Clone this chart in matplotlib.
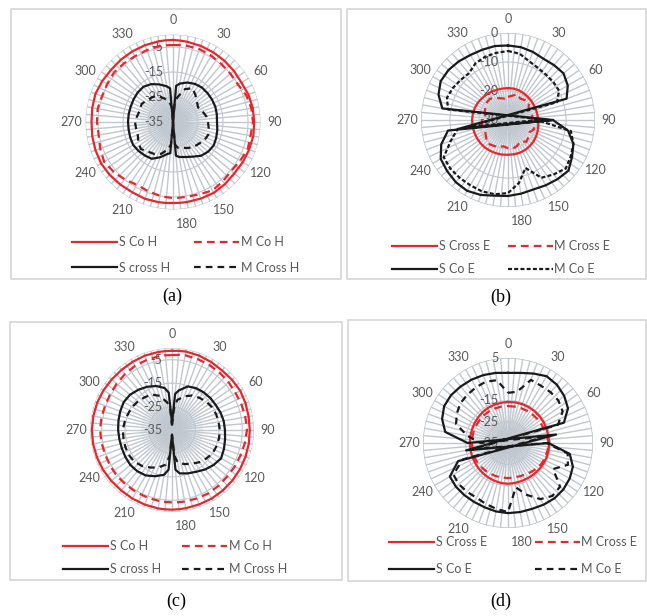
import numpy as np
import matplotlib
matplotlib.use("Agg")
import matplotlib.pyplot as plt
from matplotlib.patches import Rectangle

# =========================================
# DATA (dB)
# =========================================

# H-plane panels (a), (c): extra points next to the nulls
ang_h = [0, 5] + list(range(10, 171, 10)) + [175, 180, 185] + list(range(190, 351, 10)) + [355]
# E-plane panels (b), (d)
ang_e = list(range(0, 360, 10))

# (a)
a_s_co = [-2.2, -2.3, -2.4, -2.6, -2.8, -3.0, -3.2, -3.4, -2.9, -2.6, -2.5, -2.4, -2.6, -2.8,
          -3.0, -2.6, -2.3, -2.4, -2.5, -2.55, -2.6, -2.5, -2.4, -2.3, -2.5, -2.3, -2.0, -1.8,
          -2.0, -2.2, -2.4, -2.2, -2.0, -2.3, -2.6, -2.5, -2.4, -2.3, -2.2, -2.2]
a_m_co = [-4.2, -4.1, -4.0, -4.0, -4.4, -4.8, -5.0, -5.0, -3.8, -3.2, -3.0, -3.5, -3.2, -4.0,
          -4.6, -4.0, -3.4, -4.2, -4.6, -4.6, -4.6, -4.8, -5.0, -5.6, -6.0, -5.0, -4.0, -3.2,
          -4.0, -4.8, -4.6, -4.4, -4.8, -4.6, -4.2, -4.4, -4.6, -4.4, -4.2, -4.2]
a_s_x = [-35, -20.5, -19.4, -18.2, -17.4, -17.0, -17.0, -17.0, -17.0, -17.2, -17.4, -17.0, -16.6,
         -16.2, -16.6, -17.4, -19.0, -20.1, -20.8, -21.5, -35, -22.5, -22.0, -20.0, -18.0, -17.5,
         -17.0, -16.6, -16.8, -17.0, -17.0, -17.0, -17.0, -16.8, -16.6, -16.6, -17.5, -19.0,
         -20.5, -21.5]
a_m_x = [-35, -27.0, -25.0, -21.0, -19.4, -21.0, -22.5, -23.4, -22.5, -21.5, -21.0, -20.5, -20.0,
         -20.5, -21.5, -22.0, -23.0, -24.0, -24.6, -26.0, -35, -26.0, -24.0, -21.5, -20.2, -19.5,
         -18.2, -19.0, -20.0, -20.0, -19.8, -20.5, -21.0, -20.5, -21.5, -22.0, -23.0, -25.0,
         -27.0, -29.0]

# (b)
b_s_x = [-19.0, -19.0, -19.1, -19.3, -19.5, -19.6, -19.7, -19.7, -19.7, -19.6, -19.4, -19.1,
         -18.8, -18.5, -18.3, -18.1, -18.0, -18.0, -18.0, -17.9, -17.8, -17.7, -17.6, -17.6,
         -17.6, -17.6, -17.6, -17.6, -17.7, -17.8, -18.0, -18.3, -18.5, -18.7, -18.9, -19.0]
b_m_x = [-22.0, -21.5, -20.5, -21.5, -21.0, -20.6, -21.8, -22.5, -21.5, -21.7, -21.0, -20.5,
         -21.5, -20.8, -20.2, -21.5, -20.6, -20.0, -20.3, -20.8, -20.0, -19.8, -19.3, -20.2,
         -21.0, -21.5, -21.0, -21.0, -22.0, -21.5, -21.0, -20.5, -20.4, -21.2, -22.0, -22.5]
b_s_co = [-4.3, -4.5, -5.0, -5.6, -5.3, -5.0, -6.2, -8.5, -47.0, -14.5, -9.0, -6.0,
          -4.5, -2.8, -3.4, -4.0, -4.5, -4.2, -3.8, -3.5, -2.5, -1.8, -2.0, -2.6,
          -3.2, -5.5, -9.0, -45.5, -7.0, -4.5, -3.2, -3.2, -3.6, -4.1, -4.2, -4.1]
b_m_co = [-6.2, -6.8, -8.5, -9.3, -9.6, -9.6, -9.7, -12.0, -45.0, -20.0, -8.0, -6.0,
          -5.0, -4.0, -5.5, -7.0, -12.4, -8.0, -4.8, -4.0, -3.8, -4.0, -4.0, -4.0,
          -4.4, -9.0, -12.4, -44.0, -9.0, -7.6, -8.0, -8.6, -9.0, -7.5, -6.8, -6.5]

# (c)
c_s_co = [-1.2, -1.1, -1.0, -1.2, -1.5, -1.8, -1.6, -1.4, -1.6, -1.8, -1.8, -1.7, -1.6, -1.5,
          -1.4, -1.3, -1.2, -1.2, -1.1, -1.05, -1.0, -1.0, -1.0, -1.1, -1.2, -1.3, -1.2, -1.0,
          -0.9, -0.8, -0.8, -0.9, -1.0, -1.2, -1.4, -1.5, -1.4, -1.2, -1.2, -1.2]
c_m_co = [-3.0, -2.8, -2.6, -2.8, -3.0, -3.2, -3.4, -3.6, -3.4, -3.2, -3.0, -3.4, -3.8, -4.0,
          -4.2, -4.0, -3.8, -3.9, -4.0, -4.05, -4.1, -4.15, -4.2, -4.3, -4.4, -4.5, -4.4, -4.5,
          -4.6, -4.4, -4.3, -4.4, -4.6, -4.5, -4.2, -3.8, -3.4, -3.2, -3.0, -3.0]
c_s_x = [-32, -19.5, -17.8, -15.2, -14.4, -14.0, -13.7, -13.5, -13.0, -12.6, -12.4, -12.0, -11.4,
         -10.8, -11.8, -13.0, -14.4, -15.3, -16.2, -18.0, -33, -18.0, -15.6, -14.0, -12.6, -12.0,
         -11.8, -12.0, -12.2, -12.2, -12.0, -11.8, -11.5, -11.2, -11.6, -12.6, -13.7, -15.0,
         -16.8, -19.0]
c_m_x = [-33, -26.0, -22.0, -19.7, -18.0, -17.0, -16.0, -15.4, -15.0, -14.8, -14.6, -14.6, -14.8,
         -15.0, -16.0, -17.0, -18.4, -19.5, -21.0, -24.0, -33, -24.0, -20.0, -18.0, -16.5, -15.0,
         -14.0, -13.7, -13.8, -14.0, -14.0, -14.5, -15.0, -15.4, -16.0, -16.8, -17.5, -19.5,
         -23.0, -26.0]

# (d)
d_s_x = [-15.7, -15.6, -15.5, -15.5, -15.5, -15.5, -15.6, -15.7, -15.7, -15.6, -15.6, -15.6,
         -15.7, -15.8, -15.9, -16.0, -16.0, -15.9, -15.8, -15.9, -16.1, -16.3, -16.5, -16.7,
         -16.9, -17.0, -17.0, -17.0, -17.0, -16.9, -16.7, -16.5, -16.2, -16.0, -15.9, -15.8]
d_m_x = [-17.6, -17.6, -17.5, -17.4, -17.3, -17.2, -17.0, -16.8, -16.2, -16.0, -16.0, -16.3,
         -16.4, -16.8, -17.5, -18.0, -18.4, -18.5, -18.5, -18.5, -18.4, -18.3, -18.2, -18.0,
         -17.9, -17.8, -18.0, -18.0, -18.0, -17.9, -17.9, -17.8, -17.7, -17.6, -17.6, -17.6]
d_s_co = [-2.0, -1.5, -0.2, 1.3, 0.8, -0.5, -2.4, -7.0, -55.0, -16.0, -5.5, -2.5,
          -1.5, -1.0, -1.0, -1.5, -2.0, -2.0, -2.0, -2.3, -2.8, -3.0, -3.0, -3.0,
          -3.4, -10.0, -58.0, -16.0, -5.0, -2.0, -0.3, 0.0, -0.3, -0.6, -1.0, -1.5]
d_m_co = [-11.4, -10.5, -3.4, -3.9, -3.8, -4.0, -5.3, -10.0, -52.0, -17.0, -6.5, -5.0,
          -10.5, -3.0, -2.5, -4.5, -9.0, -13.8, -2.5, -3.5, -4.5, -5.3, -5.0, -4.8,
          -5.3, -12.4, -54.0, -22.0, -15.6, -9.0, -7.2, -5.8, -5.3, -4.8, -4.3, -5.0]

angle_labels = [str(a) for a in range(0, 360, 30)]

# =========================================
# STYLE
# =========================================

W, H = 647, 616
RED = "#e8262b"
BLACK = "#1a1a1a"
GRID = "#c0c7cf"
TXT = "#595959"
FONT = "Lato"

fig = plt.figure(figsize=(W / 100, H / 100), dpi=100)
fig.patch.set_facecolor("white")


def px_box(x0, y0, x1, y1):
    fig.add_artist(Rectangle((x0 / W, 1 - y1 / H), (x1 - x0) / W, (y1 - y0) / H,
                             transform=fig.transFigure, fill=False,
                             ec="#d6d6d6", lw=1.2))


def radar_points(deg, vals, rmin):
    # like a spreadsheet radar chart: values under the axis minimum
    # end up on the opposite side of the centre
    th = np.deg2rad(np.array(deg + [deg[0]], dtype=float))
    v = np.array(vals + [vals[0]], dtype=float)
    low = v < rmin
    th = np.where(low, th + np.pi, th)
    v = np.where(low, 2 * rmin - v, v)
    return th, v


def panel(cx, cy, R, rmin, rmax, rticks, deg, series, leg_xy, colsp, lsp,
          cap, cap_xy):
    ax = fig.add_axes([(cx - R) / W, 1 - (cy + R) / H, 2 * R / W, 2 * R / H],
                      projection="polar")
    ax.set_theta_zero_location("N")
    ax.set_theta_direction(-1)
    ax.set_ylim(rmin, rmax)
    ax.grid(False)
    ax.set_xticks([])
    ax.set_yticks([])
    ax.spines["polar"].set_visible(False)
    ax.patch.set_alpha(0)

    # dense spokes make the middle look grey
    circ = np.linspace(0, 2 * np.pi, 241)
    span = rmax - rmin
    for f in [0.38, 0.28, 0.18, 0.1]:
        ax.fill(circ, [rmin + f * span] * len(circ), color="#c4c8ce",
                alpha=0.18, lw=0, zorder=0)

    # spokes every 5 degrees
    for d in range(0, 360, 5):
        ax.plot([np.deg2rad(d)] * 2, [rmin, rmax], color=GRID, lw=1.0, zorder=1)
    # rings
    for v in rticks + [rmax]:
        ax.plot(circ, [v] * len(circ), color=GRID, lw=0.8, zorder=1)

    # radial labels
    for v in rticks:
        ax.annotate(str(v), xy=(0, v), xytext=(-7, 0), textcoords="offset points",
                    ha="right", va="center", fontsize=9, color=TXT,
                    family=FONT, zorder=2)
    # angle labels (the 180 label sits a little to the right, as in the source)
    pad = 14 / R * (rmax - rmin)
    for lab in angle_labels:
        dx = 10 if lab == "180" else 0
        ax.annotate(lab, xy=(np.deg2rad(int(lab)), rmax + pad), xytext=(dx, 0),
                    textcoords="offset points", ha="center", va="center",
                    fontsize=9, color=TXT, family=FONT, annotation_clip=False)

    handles = []
    for vals, label, color, dashes in series:
        th, rv = radar_points(deg, vals, rmin)
        ln, = ax.plot(th, rv, color=color, lw=1.6, zorder=3,
                      label=label, solid_joinstyle="round")
        if dashes:
            ln.set_dashes(dashes)
        handles.append(ln)

    # legend: column 1 = solid, column 2 = dashed
    order = [handles[0], handles[2], handles[1], handles[3]]
    ax.legend(handles=order, labels=[h.get_label() for h in order], ncol=2,
              loc="upper left",
              bbox_to_anchor=(leg_xy[0] / W, 1 - leg_xy[1] / H),
              bbox_transform=fig.transFigure, frameon=False,
              handlelength=3.6, handletextpad=0.15, columnspacing=colsp,
              labelspacing=lsp, borderpad=0, borderaxespad=0,
              prop={"family": FONT, "size": 9}, labelcolor=TXT)

    fig.text(cap_xy[0] / W, 1 - cap_xy[1] / H, cap, ha="center", va="center",
             fontsize=13, family="Liberation Serif")


# =========================================
# PANELS
# =========================================

px_box(11, 9, 341, 279)
px_box(347, 9, 646, 279)
px_box(10, 322, 342, 580)
px_box(348, 320, 646, 581)

panel(173, 122, 87.5, -35, 0, [-35, -25, -15, -5], ang_h,
      [(a_s_co, "S Co H", RED, None), (a_m_co, "M Co H", RED, (3.5, 2.3)),
       (a_s_x, "S cross H", BLACK, None), (a_m_x, "M Cross H", BLACK, (3.0, 2.3))],
      (72, 236), 1.9, 1.1, "(a)", (172, 296))

panel(508, 120, 87, -30, 0, [-30, -20, -10, 0], ang_e,
      [(b_s_x, "S Cross E", RED, None), (b_m_x, "M Cross E", RED, (3.5, 2.3)),
       (b_s_co, "S Co E", BLACK, None), (b_m_co, "M Co E", BLACK, (1.8, 1.0))],
      (392, 240), 1.4, 0.9, "(b)", (501, 297))

panel(172, 430, 82, -35, 0, [-35, -25, -15, -5], ang_h,
      [(c_s_co, "S Co H", RED, None), (c_m_co, "M Co H", RED, (3.5, 2.3)),
       (c_s_x, "S cross H", BLACK, None), (c_m_x, "M Cross H", BLACK, (3.0, 2.3))],
      (63, 540), 1.7, 0.9, "(c)", (176, 601))

panel(508, 443, 85, -35, 5, [-35, -25, -15, 5], ang_e,
      [(d_s_x, "S Cross E", RED, None), (d_m_x, "M Cross E", RED, (3.5, 2.3)),
       (d_s_co, "S Co E", BLACK, None), (d_m_co, "M Co E", BLACK, (3.0, 2.3))],
      (389, 536), 3.8, 1.2, "(d)", (501, 601))

fig.savefig("out.png", dpi=100)
